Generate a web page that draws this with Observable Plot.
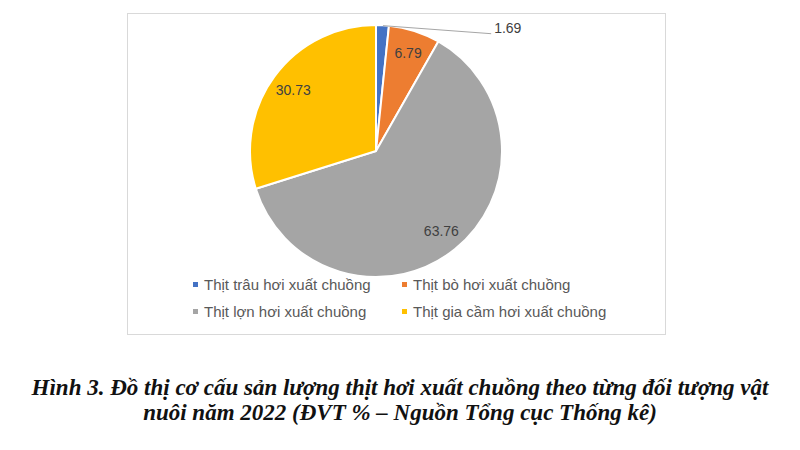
<!DOCTYPE html>
<html><head><meta charset="utf-8">
<script src="https://cdn.jsdelivr.net/npm/d3@7"></script>
<script src="https://cdn.jsdelivr.net/npm/@observablehq/plot@0.6"></script>
<style>
html,body{margin:0;padding:0;background:#fff}
body{width:800px;height:450px;overflow:hidden;position:relative;font-family:"Liberation Sans",Arial,sans-serif}
#box{position:absolute;left:127px;top:13px;width:539px;height:322px;border:1px solid #d9d9d9;box-sizing:border-box}
#chart{position:absolute;left:0;top:0}
#legend{position:absolute;left:193px;top:271px;display:grid;grid-template-columns:209px auto;font-size:15px;line-height:27px;color:#595959}
#legend .it{display:flex;align-items:center;white-space:nowrap}
#legend .sw{width:5px;height:5px;margin-right:6px}
#caption{position:absolute;left:0;top:375px;width:800px;text-align:center;font-family:"Liberation Serif","Times New Roman",serif;font-style:italic;font-weight:bold;font-size:23px;line-height:25px;color:#111}
</style>
</head><body>
<div id="box"></div>
<div id="chart"></div>
<div id="legend"></div>
<div id="caption">Hình 3. Đồ thị cơ cấu sản lượng thịt hơi xuất chuồng theo từng đối tượng vật<br>nuôi năm 2022 (ĐVT % – Nguồn Tổng cục Thống kê)</div>
<script>
const categories = ["Thịt trâu hơi xuất chuồng","Thịt bò hơi xuất chuồng","Thịt lợn hơi xuất chuồng","Thịt gia cầm hơi xuất chuồng"];
const values = [1.69, 6.79, 63.76, 30.73];
const labels = ["1.69","6.79","63.76","30.73"];
const colors = ["#4472C4","#ED7D31","#A5A5A5","#FFC000"];

const data = categories.map((c,i)=>({cat:c, value:values[i], label:labels[i]}));
const arcs = d3.pie().sort(null).value(d=>d.value)(data);
const mid = a => (a.startAngle + a.endAngle)/2;

const inside = arcs.filter(a => a.data.value >= 3);
const outside = arcs.filter(a => a.data.value < 3);
// callout end for small slices (in scale units)
const callout = [0.91, 0.935];

const plot = Plot.plot({
  width: 800, height: 345,
  marginLeft: 250, marginRight: 298, marginTop: 25, marginBottom: 68,
  x: {domain: [-1, 1], axis: null},
  y: {domain: [-1, 1], axis: null},
  color: {domain: categories, range: colors},
  style: {background: "transparent", overflow: "visible"},
  marks: [
    Plot.dot(arcs, {
      x: () => 0, y: () => 0, fill: d => d.data.cat,
      render(index, scales, values, dimensions, context) {
        const cx = scales.x(0), cy = scales.y(0), r = scales.x(1) - scales.x(0);
        const arc = d3.arc().innerRadius(0).outerRadius(r);
        const g = d3.create("svg:g").attr("transform", `translate(${cx},${cy})`);
        g.selectAll("path").data(index).join("path")
          .attr("d", i => arc(arcs[i]))
          .attr("fill", i => scales.color(arcs[i].data.cat))
          .attr("stroke", "#fff").attr("stroke-width", 2).attr("stroke-linejoin", "round");
        return g.node();
      }
    }),
    Plot.text(inside, {
      x: a => 0.82 * Math.sin(mid(a)), y: a => 0.82 * Math.cos(mid(a)),
      text: a => a.data.label, fontSize: 14, fill: "#404040",
      fontFamily: "Liberation Sans, Arial, sans-serif"
    }),
    Plot.link(outside, {
      x1: a => Math.sin(mid(a)), y1: a => Math.cos(mid(a)),
      x2: () => callout[0], y2: () => callout[1],
      stroke: "#a6a6a6", strokeWidth: 1
    }),
    Plot.text(outside, {
      x: () => callout[0], y: () => callout[1],
      text: a => a.data.label, textAnchor: "start", dx: 3, dy: -5,
      fontSize: 14, fill: "#404040", fontFamily: "Liberation Sans, Arial, sans-serif"
    })
  ]
});
document.getElementById("chart").appendChild(plot);

const legend = document.getElementById("legend");
categories.forEach((c,i)=>{
  const it = document.createElement("div"); it.className = "it";
  const sw = document.createElement("span"); sw.className = "sw"; sw.style.background = colors[i];
  const tx = document.createElement("span"); tx.textContent = c;
  it.appendChild(sw); it.appendChild(tx); legend.appendChild(it);
});
</script>
</body></html>
